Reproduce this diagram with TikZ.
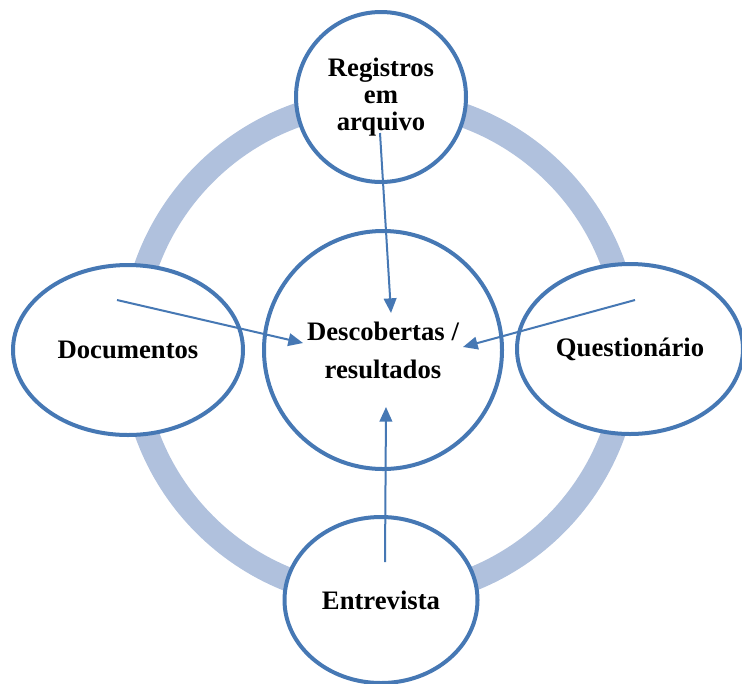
\documentclass[tikz,border=0pt]{standalone}
\usepackage{fontspec}
\setmainfont{Liberation Serif}
\usetikzlibrary{shapes.geometric,arrows.meta}
\definecolor{nodeblue}{RGB}{70,120,180}
\definecolor{ringblue}{RGB}{176,193,221}
\begin{document}
\begin{tikzpicture}[x=0.75pt,y=-0.75pt,
  outer/.style={draw=nodeblue, line width=3pt, fill=white, inner sep=0pt, align=center,
    font=\bfseries\fontsize{20}{20.5}\selectfont},
  conn/.style={draw=nodeblue, line width=1.5pt, -{Triangle[length=11pt,width=9.5pt]}}]
\useasboundingbox (0,0) rectangle (742,683);
\draw[ringblue, line width=18pt] (380,349) circle[radius=186pt];
\node[outer, circle, minimum size=127.5pt] (top) at (381,97) {Registros\\em\\arquivo};
\node[outer, ellipse, minimum width=172.5pt, minimum height=127.5pt] (doc) at (128,350) {Documentos};
\node[outer, ellipse, minimum width=169.5pt, minimum height=127.5pt] (quest) at (630,349) {\raisebox{-3pt}{Questionário}};
\node[outer, ellipse, minimum width=144.75pt, minimum height=124.5pt] (entr) at (381,600) {Entrevista};
\node[outer, circle, minimum size=178.5pt, font=\bfseries\fontsize{20}{28.5}\selectfont] (res) at (383,350) {Descobertas /\\resultados};
\coordinate (ts) at (380,133);
\coordinate (te) at (391,313);
\coordinate (ls) at (117,300);
\coordinate (le) at (303,343);
\coordinate (rs) at (635,300);
\coordinate (re) at (463,347);
\coordinate (bs) at (385,562);
\coordinate (be) at (386,407);
\draw[conn] (ts) -- (te);
\draw[conn] (ls) -- (le);
\draw[conn] (rs) -- (re);
\draw[conn] (bs) -- (be);
\end{tikzpicture}
\end{document}
